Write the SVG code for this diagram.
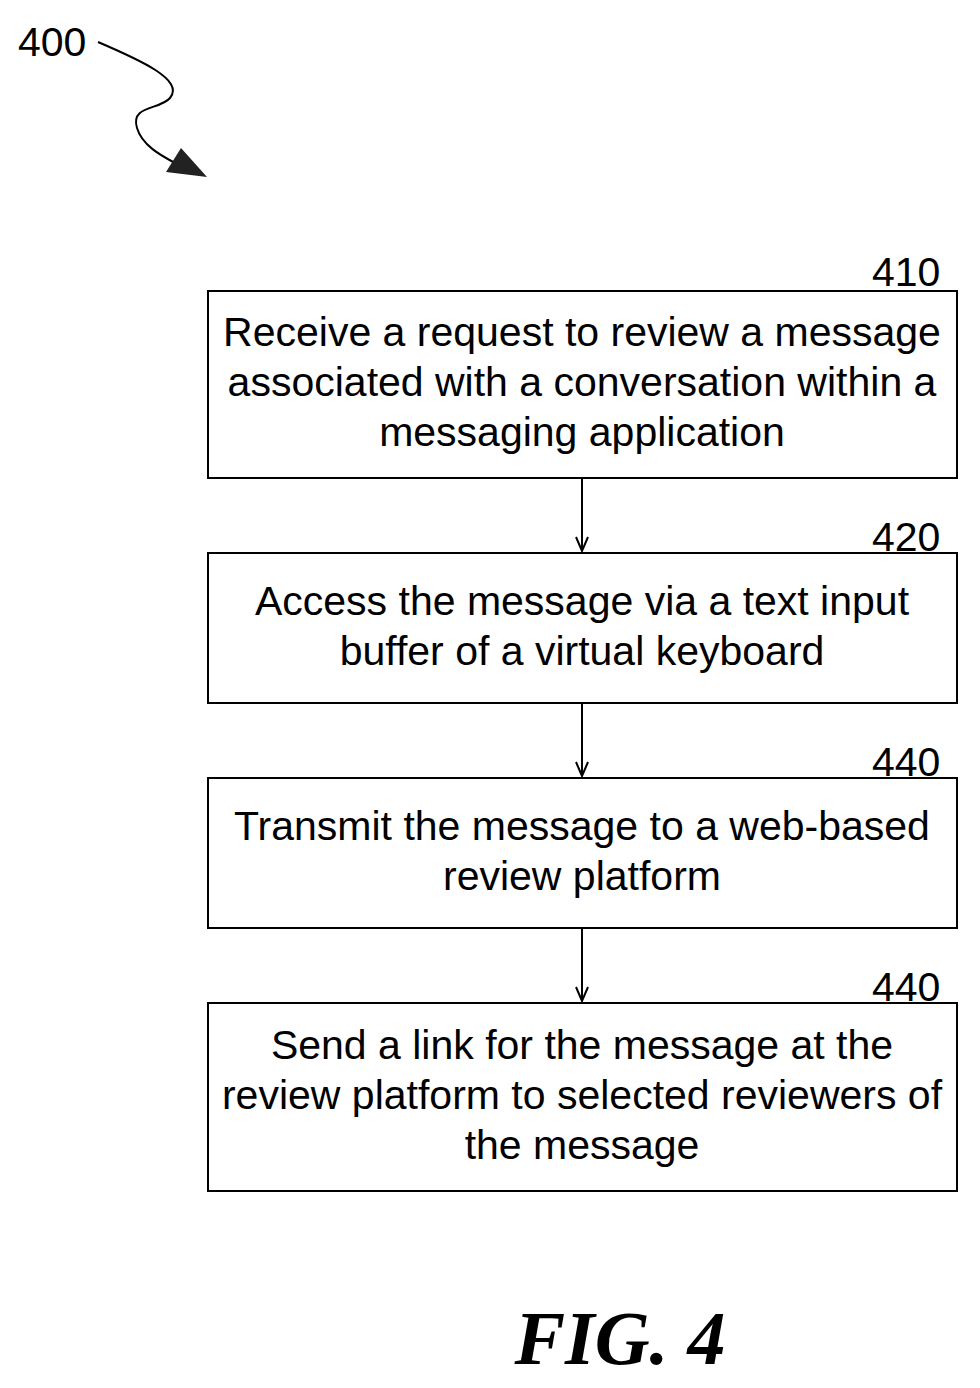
<svg xmlns="http://www.w3.org/2000/svg" width="980" height="1388" viewBox="0 0 980 1388">
<style>
.b{fill:#fff;stroke:#000;stroke-width:2}
.t{font-family:"Liberation Sans",Arial,sans-serif;font-size:41px;text-anchor:middle}
.n{font-family:"Liberation Sans",Arial,sans-serif;font-size:41px}
.c{stroke:#000;stroke-width:2;fill:none}
</style>
<defs><marker id="a" markerWidth="16" markerHeight="14" refX="15" refY="7" orient="auto" markerUnits="userSpaceOnUse" viewBox="0 0 16 14"><path d="M1,1 L15,7 L1,13" fill="none" stroke="#000" stroke-width="2"/></marker></defs>
<text class="n" x="18" y="56">400</text>
<g id="connectors">
<path class="c" d="M98,42 C140,60 185,80 170,98 C160,110 130,105 137,128 C142,145 160,155 175,163"/>
<polygon points="181,148 166,172 207,177" fill="#222"/>
<line class="c" x1="582" y1="478" x2="582" y2="551" marker-end="url(#a)"/>
<line class="c" x1="582" y1="703" x2="582" y2="776" marker-end="url(#a)"/>
<line class="c" x1="582" y1="928" x2="582" y2="1001" marker-end="url(#a)"/>
</g>
<g id="n410"><rect class="b" x="208" y="291" width="749" height="187"/><text class="n" x="872" y="286">410</text>
<text class="t" x="582" y="346">Receive a request to review a message</text><text class="t" x="582" y="396">associated with a conversation within a</text><text class="t" x="582" y="446">messaging application</text></g>
<g id="n420"><rect class="b" x="208" y="553" width="749" height="150"/><text class="n" x="872" y="551">420</text>
<text class="t" x="582" y="615">Access the message via a text input</text><text class="t" x="582" y="665">buffer of a virtual keyboard</text></g>
<g id="n440a"><rect class="b" x="208" y="778" width="749" height="150"/><text class="n" x="872" y="776">440</text>
<text class="t" x="582" y="840">Transmit the message to a web-based</text><text class="t" x="582" y="890">review platform</text></g>
<g id="n440b"><rect class="b" x="208" y="1003" width="749" height="188"/><text class="n" x="872" y="1001">440</text>
<text class="t" x="582" y="1059">Send a link for the message at the</text><text class="t" x="582" y="1109">review platform to selected reviewers of</text><text class="t" x="582" y="1159">the message</text></g>
<text x="620" y="1364" font-family="Liberation Serif,serif" font-size="76" font-weight="bold" font-style="italic" text-anchor="middle">FIG. 4</text>
</svg>
